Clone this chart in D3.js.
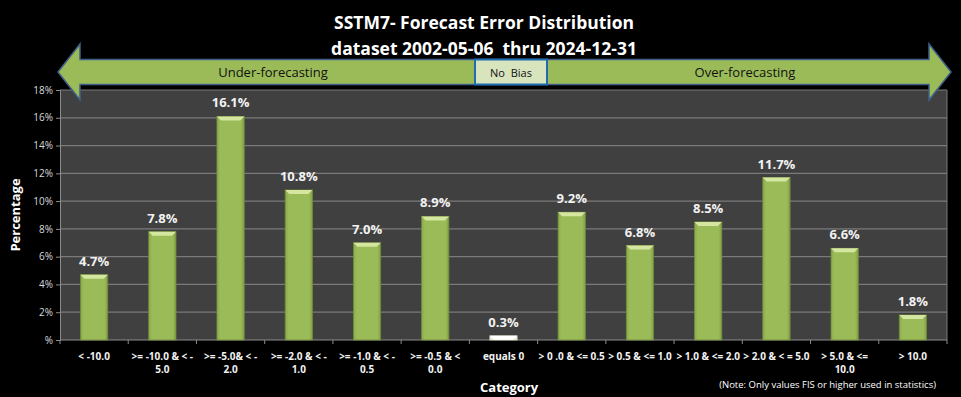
<!DOCTYPE html>
<html>
<head>
<meta charset="utf-8">
<script src="https://cdn.jsdelivr.net/npm/d3@7"></script>
<style>
  body { margin: 0; background: #000; }
  svg { display: block; }
</style>
</head>
<body>
<div id="chart"></div>
<script>
const categories = [
    ["< -10.0"],
    [">= -10.0 & < -", "5.0"],
    [">= -5.0& < -", "2.0"],
    [">= -2.0 & < -", "1.0"],
    [">= -1.0 & < -", "0.5"],
    [">= -0.5 & <", "0.0"],
    ["equals 0"],
    ["> 0 .0 & <= 0.5"],
    ["> 0.5 & <= 1.0"],
    ["> 1.0 & <= 2.0"],
    ["> 2.0 & < = 5.0"],
    ["> 5.0 & <=", "10.0"],
    ["> 10.0"]
];
const values = [4.7, 7.8, 16.1, 10.8, 7.0, 8.9, 0.3, 9.2, 6.8, 8.5, 11.7, 6.6, 1.8];
const yTicks = [0, 2, 4, 6, 8, 10, 12, 14, 16, 18];
const titleLines = ["SSTM7- Forecast Error Distribution", "dataset 2002-05-06  thru 2024-12-31"];
const noteText = "(Note: Only values FIS or higher used in statistics)";

const font = "'Open Sans', sans-serif";

function drawChart() {
    const W = 961, H = 397;
    const margin = { top: 90, right: 14, bottom: 57, left: 60 },
        width = W - margin.left - margin.right,
        height = H - margin.top - margin.bottom;

    const svg = d3.select("#chart")
        .append("svg")
        .attr("width", W)
        .attr("height", H)
        .style("background", "#000");

    const defs = svg.append("defs");
    const grad = defs.append("linearGradient").attr("id", "barGrad")
        .attr("x1", "0").attr("x2", "1").attr("y1", "0").attr("y2", "0");
    grad.append("stop").attr("offset", "0%").attr("stop-color", "#8AAA4C");
    grad.append("stop").attr("offset", "12%").attr("stop-color", "#9BBB59");
    grad.append("stop").attr("offset", "88%").attr("stop-color", "#9BBB59");
    grad.append("stop").attr("offset", "100%").attr("stop-color", "#819F45");

    const g = svg.append("g")
        .attr("transform", `translate(${margin.left}, ${margin.top})`);

    const x = d3.scaleBand()
        .domain(d3.range(categories.length))
        .range([0, width])
        .paddingInner(0.6)
        .paddingOuter(0.3);

    const step = x.step();

    const y = d3.scaleLinear()
        .domain([0, 18])
        .range([height, 0]);

    // plot background
    g.append("rect")
        .attr("width", width)
        .attr("height", height)
        .attr("fill", "#404040");

    // gridlines
    g.selectAll(".grid")
        .data(yTicks.filter(d => d > 0))
        .join("line")
        .attr("x1", 0)
        .attr("x2", width)
        .attr("y1", d => y(d))
        .attr("y2", d => y(d))
        .attr("stroke", "#7a7a7a")
        .attr("stroke-width", 1.2);

    // right edge
    g.append("line")
        .attr("x1", width).attr("x2", width)
        .attr("y1", 0).attr("y2", height)
        .attr("stroke", "#7a7a7a");

    // y axis
    const yAxis = g.append("g")
        .call(d3.axisLeft(y).tickValues(yTicks).tickSize(4)
            .tickFormat(d => d === 0 ? "%" : d + "%"));
    yAxis.select(".domain").attr("stroke", "#8c8c8c");
    yAxis.selectAll(".tick line").attr("stroke", "#8c8c8c");
    yAxis.selectAll("text")
        .attr("fill", "#d9d9d9")
        .style("font-family", font)
        .style("font-size", "10px");

    // x axis line and ticks at band boundaries
    g.append("line")
        .attr("x1", 0).attr("x2", width)
        .attr("y1", height).attr("y2", height)
        .attr("stroke", "#8c8c8c");
    g.selectAll(".xtick")
        .data(d3.range(categories.length + 1))
        .join("line")
        .attr("x1", d => d * step)
        .attr("x2", d => d * step)
        .attr("y1", height)
        .attr("y2", height + 4)
        .attr("stroke", "#8c8c8c");

    // bars
    const bars = g.selectAll(".bar")
        .data(values)
        .join("g")
        .attr("class", "bar");

    bars.append("rect")
        .attr("x", (d, i) => x(i))
        .attr("y", d => y(d))
        .attr("width", x.bandwidth())
        .attr("height", d => height - y(d))
        .attr("fill", (d, i) => i === 6 ? "#EBF1DE" : "url(#barGrad)")
        .attr("stroke", (d, i) => i === 6 ? "#C9D6B0" : "#6F8C38")
        .attr("stroke-width", 0.8);

    // bevel highlight on top
    bars.append("polygon")
        .attr("points", (d, i) => {
            const x0 = x(i), x1 = x(i) + x.bandwidth(), t = y(d);
            const b = Math.min(4, height - t);
            return [[x0, t], [x1, t], [x1 - 4, t + b], [x0 + 4, t + b]].join(" ");
        })
        .attr("fill", (d, i) => i === 6 ? "#ffffff" : "#D4E6A0");

    // value labels
    g.selectAll(".label")
        .data(values)
        .join("text")
        .attr("x", (d, i) => x(i) + x.bandwidth() / 2)
        .attr("y", d => y(d) - 9)
        .attr("text-anchor", "middle")
        .attr("fill", "#f2f2f2")
        .style("font-family", font)
        .style("font-weight", "bold")
        .style("font-size", "13px")
        .text(d => d.toFixed(1) + "%");

    // category labels
    const cat = g.selectAll(".cat")
        .data(categories)
        .join("text")
        .attr("text-anchor", "middle")
        .attr("fill", "#f2f2f2")
        .style("font-family", font)
        .style("font-weight", "bold")
        .style("font-size", "10px");
    cat.selectAll("tspan")
        .data(d => d)
        .join("tspan")
        .attr("x", function() {
            const i = categories.indexOf(d3.select(this.parentNode).datum());
            return x(i) + x.bandwidth() / 2;
        })
        .attr("y", (d, j) => height + 20 + j * 13)
        .text(d => d);

    // axis titles
    svg.append("text")
        .attr("transform", `translate(20, ${margin.top + height / 2}) rotate(-90)`)
        .attr("text-anchor", "middle")
        .attr("fill", "#fff")
        .style("font-family", font)
        .style("font-weight", "bold")
        .style("font-size", "13px")
        .text("Percentage");

    svg.append("text")
        .attr("x", 480)
        .attr("y", 392)
        .attr("fill", "#fff")
        .style("font-family", font)
        .style("font-weight", "bold")
        .style("font-size", "13px")
        .text("Category");

    svg.append("text")
        .attr("x", 936)
        .attr("y", 388)
        .attr("text-anchor", "end")
        .attr("fill", "#fff")
        .style("font-family", font)
        .style("font-size", "9.5px")
        .text(noteText);

    // title
    svg.selectAll(".title")
        .data(titleLines)
        .join("text")
        .attr("x", 484)
        .attr("y", (d, i) => 29 + i * 26)
        .attr("text-anchor", "middle")
        .attr("fill", "#fff")
        .style("white-space", "pre")
        .style("font-family", font)
        .style("font-weight", "bold")
        .style("font-size", "17.5px")
        .text(d => d);

    // double-headed arrow
    const ax0 = 58, ax1 = 951, ay = 72, bodyH = 25, headH = 56, headW = 22;
    const arrowPts = [
        [ax0, ay], [ax0 + headW, ay - headH / 2], [ax0 + headW, ay - bodyH / 2],
        [ax1 - headW, ay - bodyH / 2], [ax1 - headW, ay - headH / 2], [ax1, ay],
        [ax1 - headW, ay + headH / 2], [ax1 - headW, ay + bodyH / 2],
        [ax0 + headW, ay + bodyH / 2], [ax0 + headW, ay + headH / 2]
    ];
    svg.append("polygon")
        .attr("points", arrowPts.join(" "))
        .attr("fill", "#9BBB59")
        .attr("stroke", "#3F5F8A")
        .attr("stroke-width", 1.5);

    svg.append("rect")
        .attr("x", 475)
        .attr("y", ay - bodyH / 2)
        .attr("width", 72)
        .attr("height", bodyH)
        .attr("fill", "#D7E4BD")
        .attr("stroke", "#1F6CB0")
        .attr("stroke-width", 2);

    const arrowLabels = [
        { t: "Under-forecasting", x: 273 },
        { t: "No  Bias", x: 511 },
        { t: "Over-forecasting", x: 745 }
    ];
    svg.selectAll(".alabel")
        .data(arrowLabels)
        .join("text")
        .attr("x", d => d.x)
        .attr("y", ay + 5)
        .attr("text-anchor", "middle")
        .attr("fill", "#111")
        .style("white-space", "pre")
        .style("font-family", font)
        .style("font-size", d => d.t.startsWith("No") ? "11px" : "13px")
        .text(d => d.t);
}

drawChart();
</script>
</body>
</html>
